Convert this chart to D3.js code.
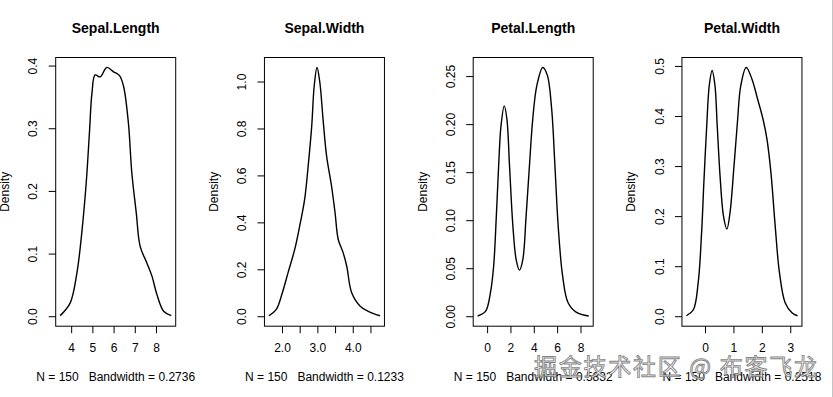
<!DOCTYPE html>
<html>
<head>
<meta charset="utf-8">
<script src="https://cdn.jsdelivr.net/npm/d3@7"></script>
<style>
  body { margin: 0; background: #fff; }
  svg { display: block; }
  text { font-family: "Liberation Sans", Arial, Helvetica, sans-serif; }
</style>
</head>
<body>
<svg id="chart" width="833" height="397"></svg>
<script>
// ---------------------------------------------------------------------------
// data
// ---------------------------------------------------------------------------
var titles = ["Sepal.Length", "Sepal.Width", "Petal.Length", "Petal.Width"];
var bandwidths = ["0.2736", "0.1233", "0.5832", "0.2518"];
var sampleSize = 150;

var sepalLengthX = [3.48, 3.95, 4.27, 4.5, 4.71, 4.86, 4.98, 5.13, 5.37, 5.68, 6.0, 6.28, 6.47, 6.7, 6.86, 7.07, 7.25, 7.57, 7.81, 8.04, 8.36, 8.72];
var sepalLengthD = [0.001, 0.021, 0.069, 0.133, 0.213, 0.292, 0.356, 0.385, 0.382, 0.397, 0.39, 0.384, 0.367, 0.308, 0.229, 0.165, 0.112, 0.085, 0.064, 0.035, 0.008, 0.001];

var sepalWidthX = [1.63, 1.84, 2.01, 2.17, 2.36, 2.5, 2.64, 2.74, 2.84, 2.91, 2.99, 3.07, 3.16, 3.26, 3.4, 3.5, 3.59, 3.73, 3.83, 3.97, 4.21, 4.44, 4.77];
var sepalWidthD = [0.002, 0.029, 0.1, 0.185, 0.285, 0.384, 0.498, 0.64, 0.81, 0.98, 1.06, 0.996, 0.84, 0.683, 0.555, 0.441, 0.327, 0.27, 0.213, 0.1, 0.043, 0.021, 0.002];

var petalLengthX = [-0.81, -0.14, 0.28, 0.56, 0.79, 0.99, 1.19, 1.47, 1.7, 1.92, 2.21, 2.49, 2.77, 3.06, 3.34, 3.63, 3.91, 4.26, 4.77, 5.16, 5.53, 5.81, 6.09, 6.47, 6.94, 7.66, 8.71];
var petalLengthD = [0.0003, 0.005, 0.024, 0.052, 0.104, 0.157, 0.198, 0.219, 0.205, 0.157, 0.094, 0.059, 0.048, 0.059, 0.104, 0.157, 0.205, 0.24, 0.259, 0.251, 0.216, 0.157, 0.094, 0.042, 0.014, 0.004, 0.0003];

var petalWidthX = [-0.655, -0.41, -0.24, -0.12, -0.04, 0.06, 0.15, 0.25, 0.35, 0.43, 0.53, 0.65, 0.77, 0.88, 1.02, 1.14, 1.26, 1.45, 1.65, 1.85, 2.04, 2.18, 2.32, 2.47, 2.62, 2.82, 3.06, 3.255];
var petalWidthD = [0.001, 0.013, 0.067, 0.167, 0.267, 0.38, 0.461, 0.491, 0.461, 0.38, 0.28, 0.2, 0.174, 0.207, 0.3, 0.387, 0.461, 0.497, 0.474, 0.434, 0.394, 0.354, 0.287, 0.18, 0.087, 0.027, 0.007, 0.001];

var sepalLengthXTicks = [4, 5, 6, 7, 8];
var sepalLengthXLabels = [4, 5, 6, 7, 8];
var sepalLengthYTicks = [0, 0.1, 0.2, 0.3, 0.4];

var sepalWidthXTicks = [2, 2.5, 3, 3.5, 4, 4.5];
var sepalWidthXLabels = [2, 3, 4];
var sepalWidthYTicks = [0, 0.2, 0.4, 0.6, 0.8, 1.0];

var petalLengthXTicks = [0, 2, 4, 6, 8];
var petalLengthXLabels = [0, 2, 4, 6, 8];
var petalLengthYTicks = [0, 0.05, 0.1, 0.15, 0.2, 0.25];

var petalWidthXTicks = [0, 1, 2, 3];
var petalWidthXLabels = [0, 1, 2, 3];
var petalWidthYTicks = [0, 0.1, 0.2, 0.3, 0.4, 0.5];

var watermark = "掘金技术社区 @ 布客飞龙";

// ---------------------------------------------------------------------------
// panel table built from the arrays
// ---------------------------------------------------------------------------
var panels = [
  { xs: sepalLengthX, ds: sepalLengthD, xt: sepalLengthXTicks, xl: sepalLengthXLabels, yt: sepalLengthYTicks, xf: d3.format("d"), yf: d3.format(".1f") },
  { xs: sepalWidthX, ds: sepalWidthD, xt: sepalWidthXTicks, xl: sepalWidthXLabels, yt: sepalWidthYTicks, xf: d3.format(".1f"), yf: d3.format(".1f") },
  { xs: petalLengthX, ds: petalLengthD, xt: petalLengthXTicks, xl: petalLengthXLabels, yt: petalLengthYTicks, xf: d3.format("d"), yf: d3.format(".2f") },
  { xs: petalWidthX, ds: petalWidthD, xt: petalWidthXTicks, xl: petalWidthXLabels, yt: petalWidthYTicks, xf: d3.format("d"), yf: d3.format(".1f") }
];

var svg = d3.select("#chart");

var plotLeft = 55.7,
  panelStep = 208.75,
  plotWidth = 120,
  plotTop = 57.5,
  plotBottom = 326.2;

// R style: extend data range by 4% on each side
function rExtend(lo, hi) {
  var pad = (hi - lo) * 0.04;
  return [lo - pad, hi + pad];
}

panels.forEach(function (p, i) {
  var x0 = plotLeft + i * panelStep;
  var x1 = x0 + plotWidth;
  var cx = (x0 + x1) / 2;

  var x = d3.scaleLinear().domain(rExtend(d3.min(p.xs), d3.max(p.xs))).range([x0, x1]);
  var y = d3.scaleLinear().domain(rExtend(0, d3.max(p.ds))).range([plotBottom, plotTop]);

  var pts = p.xs.map(function (v, k) { return [v, p.ds[k]]; });

  // density curve
  svg.append("path")
    .datum(pts)
    .attr("fill", "none")
    .attr("stroke", "#000")
    .attr("stroke-width", 1.4)
    .attr("d", d3.line()
      .x(function (d) { return x(d[0]); })
      .y(function (d) { return y(d[1]); })
      .curve(d3.curveCatmullRom.alpha(0.5)));

  // box
  svg.append("rect")
    .attr("x", x0)
    .attr("y", plotTop)
    .attr("width", plotWidth)
    .attr("height", plotBottom - plotTop)
    .attr("fill", "none")
    .attr("stroke", "#000")
    .attr("stroke-width", 1);

  // x axis
  var gx = svg.append("g")
    .attr("transform", "translate(0," + plotBottom + ")")
    .call(d3.axisBottom(x)
      .tickValues(p.xt)
      .tickSize(7)
      .tickSizeOuter(0)
      .tickFormat(function (d) { return p.xl.indexOf(d) >= 0 ? p.xf(d) : ""; }));
  gx.select(".domain").remove();
  gx.selectAll("line").attr("stroke", "#000");
  gx.selectAll("text")
    .attr("y", 25.5)
    .attr("dy", 0)
    .attr("fill", "#000")
    .style("font-size", "12px")
    .style("font-family", "'Liberation Sans', Arial, sans-serif");

  // y axis
  var gy = svg.append("g")
    .attr("transform", "translate(" + x0 + ",0)")
    .call(d3.axisLeft(y)
      .tickValues(p.yt)
      .tickSize(7)
      .tickSizeOuter(0)
      .tickFormat(p.yf));
  gy.select(".domain").remove();
  gy.selectAll("line").attr("stroke", "#000");
  gy.selectAll("text")
    .attr("x", 0)
    .attr("dy", 0)
    .attr("text-anchor", "middle")
    .attr("transform", "translate(-18.3,0) rotate(-90)")
    .attr("fill", "#000")
    .style("font-size", "12px")
    .style("font-family", "'Liberation Sans', Arial, sans-serif");

  // title
  svg.append("text")
    .attr("x", cx)
    .attr("y", 33)
    .attr("text-anchor", "middle")
    .style("font-size", "14px")
    .style("font-weight", "bold")
    .text(titles[i]);

  // y label
  svg.append("text")
    .attr("transform", "translate(" + (x0 - 46.5) + "," + ((plotTop + plotBottom) / 2) + ") rotate(-90)")
    .attr("text-anchor", "middle")
    .style("font-size", "12px")
    .text("Density");

  // sub label
  svg.append("text")
    .attr("x", cx)
    .attr("y", 381)
    .attr("text-anchor", "middle")
    .style("font-size", "12px")
    .style("white-space", "pre")
    .attr("xml:space", "preserve")
    .text("N = " + sampleSize + "   Bandwidth = " + bandwidths[i]);
});

// right edge of the screenshot
svg.append("line")
  .attr("x1", 832.5).attr("x2", 832.5)
  .attr("y1", 0).attr("y2", 397)
  .attr("stroke", "#c4c4c4");

// watermark
svg.append("text")
  .attr("x", 534)
  .attr("y", 375)
  .attr("textLength", 283)
  .attr("lengthAdjust", "spacing")
  .style("font-family", "'Noto Sans CJK SC', sans-serif")
  .style("font-size", "23px")
  .style("white-space", "pre")
  .attr("fill", "#fff")
  .attr("stroke", "#777")
  .attr("stroke-width", 0.9)
  .attr("opacity", 0.9)
  .text(watermark);
</script>
</body>
</html>
